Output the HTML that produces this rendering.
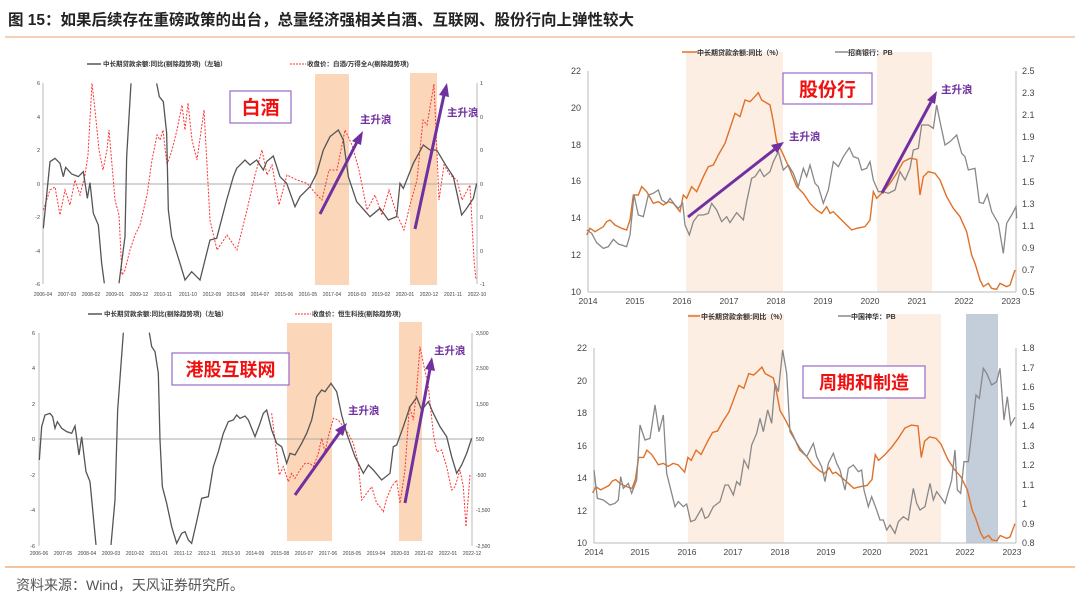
<!DOCTYPE html>
<html><head><meta charset="utf-8"><style>
html,body{margin:0;padding:0;background:#fff;}
svg{display:block;font-family:"Liberation Sans","Noto Sans CJK SC",sans-serif;}
.ns{vector-effect:non-scaling-stroke;fill:none;}
</style></head><body>
<svg width="1080" height="604" viewBox="0 0 1080 604" xmlns="http://www.w3.org/2000/svg">
<rect width="1080" height="604" fill="#fff"/>
<text x="8" y="25" font-size="15.5" font-weight="bold" fill="#222">图 15：如果后续存在重磅政策的出台，总量经济强相关白酒、互联网、股份行向上弹性较大</text>
<line x1="5" y1="37" x2="1075" y2="37" stroke="#e8a070" stroke-width="1"/>

<!-- ============ Chart 1 ============ -->
<rect x="315" y="74" width="34" height="211" fill="#fbd6b8"/>
<rect x="410" y="73" width="27" height="212" fill="#fbd6b8"/>
<line x1="43" y1="83" x2="43" y2="284" stroke="#bbb"/>
<line x1="477" y1="83" x2="477" y2="284" stroke="#bbb"/>
<line x1="43" y1="184" x2="477" y2="184" stroke="#aaa"/>
<g font-size="5.5" fill="#444" text-anchor="end">
<text x="40" y="85">6</text><text x="40" y="119">4</text><text x="40" y="152">2</text><text x="40" y="186">0</text><text x="40" y="219">-2</text><text x="40" y="253">-4</text><text x="40" y="286">-6</text>
</g>
<g font-size="5.5" fill="#444">
<text x="480" y="85">1</text><text x="480" y="119">0</text><text x="480" y="152">0</text><text x="480" y="186">0</text><text x="480" y="219">0</text><text x="480" y="253">0</text><text x="480" y="286">-1</text>
</g>
<g font-size="5" fill="#444" text-anchor="middle">
<text x="43" y="296">2006-04</text><text x="67" y="296">2007-03</text><text x="91" y="296">2008-02</text><text x="115" y="296">2009-01</text><text x="139" y="296">2009-12</text><text x="163" y="296">2010-11</text><text x="188" y="296">2011-10</text><text x="212" y="296">2012-09</text><text x="236" y="296">2013-08</text><text x="260" y="296">2014-07</text><text x="284" y="296">2015-06</text><text x="308" y="296">2016-05</text><text x="332" y="296">2017-04</text><text x="357" y="296">2018-03</text><text x="381" y="296">2019-02</text><text x="405" y="296">2020-01</text><text x="429" y="296">2020-12</text><text x="453" y="296">2021-11</text><text x="477" y="296">2022-10</text>
</g>
<line x1="87" y1="64" x2="101" y2="64" stroke="#555" stroke-width="1.5"/>
<text x="103" y="66" font-size="6.5" font-weight="bold" fill="#333">中长期贷款余额:同比(剔除趋势项)（左轴）</text>
<line x1="290" y1="64" x2="306" y2="64" stroke="#f33" stroke-dasharray="2,1"/>
<text x="307" y="66" font-size="6.5" font-weight="bold" fill="#333">收盘价：白酒/万得全A(剔除趋势项)</text>
<g transform="translate(0,50) scale(0.33333)">
<polyline class="ns" stroke="#f33" stroke-width="1" stroke-dasharray="2,1.5" points="130,480 150,420 165,411 180,495 195,420 210,465 225,390 240,435 255,375 264,315 276,100 285,180 297,300 309,360 321,300 327,240 336,345 345,450 357,495 366,675 375,660 390,600 405,555 420,525 441,435 456,330 471,255 480,270 489,240 501,345 516,300 531,240 546,165 555,240 564,159 576,270 591,330 612,180 630,510 651,600 681,555 711,600 741,480 765,375 786,300 801,375 816,345 837,465 861,375 891,390 921,400 951,435 966,450 987,360 1011,360 1035,240 1056,285 1077,360 1101,480 1125,435 1146,495 1167,420 1191,495 1212,540 1230,465 1251,390 1269,210 1281,225 1302,102 1317,450 1332,345 1350,375 1371,390 1386,450 1410,405 1422,630 1428,690"/>
<polyline class="ns" stroke="#555" stroke-width="1.3" points="130,535 150,335 165,325 180,340 190,380 197,352 215,372 235,380 250,365 262,445 270,398 280,490 295,525 305,640 313,700"/>
<polyline class="ns" stroke="#555" stroke-width="1.3" points="357,700 375,560 380,320 393,100"/>
<polyline class="ns" stroke="#555" stroke-width="1.3" points="470,100 478,140 490,155 500,250 505,480 515,560 540,640 555,690 575,665 600,690 630,570 650,565 680,450 700,380 710,355 735,330 750,345 770,330 790,360 800,335 820,318 840,380 860,400 885,470 900,440 930,410 950,370 970,300 990,260 1015,240 1030,270 1045,380 1070,455 1110,500 1140,475 1165,510 1190,500 1200,400 1210,415 1240,340 1270,285 1290,300 1310,300 1340,350 1360,380 1385,495 1400,475 1420,445 1430,400"/>
</g>
<rect x="230" y="91" width="61" height="32" fill="#fff" stroke="#9a6ac8" stroke-width="1.2"/>
<text x="260.5" y="114" font-size="19" font-weight="bold" fill="#f01010" text-anchor="middle">白酒</text>
<line x1="320" y1="214" x2="357" y2="142" stroke="#7030a0" stroke-width="3"/>
<polygon points="363,131 352,141 361,145" fill="#7030a0"/>
<line x1="415" y1="229" x2="444" y2="95" stroke="#7030a0" stroke-width="3"/>
<polygon points="447,83 439,95 449,97" fill="#7030a0"/>
<text x="360" y="123" font-size="10.5" font-weight="bold" fill="#7030a0">主升浪</text>
<text x="447" y="116" font-size="10.5" font-weight="bold" fill="#7030a0">主升浪</text>

<!-- ============ Chart 2 ============ -->
<rect x="686" y="52" width="97" height="240" fill="#fdeee3"/>
<rect x="877" y="52" width="55" height="240" fill="#fdeee3"/>
<line x1="588" y1="71" x2="588" y2="292" stroke="#bbb"/>
<line x1="1016" y1="71" x2="1016" y2="292" stroke="#bbb"/>
<line x1="588" y1="292" x2="1016" y2="292" stroke="#bbb"/>
<g font-size="9" fill="#444" text-anchor="end">
<text x="581" y="74">22</text><text x="581" y="111">20</text><text x="581" y="148">18</text><text x="581" y="184">16</text><text x="581" y="221">14</text><text x="581" y="258">12</text><text x="581" y="295">10</text>
</g>
<g font-size="9" fill="#444">
<text x="1022" y="74">2.5</text><text x="1022" y="96">2.3</text><text x="1022" y="118">2.1</text><text x="1022" y="140">1.9</text><text x="1022" y="162">1.7</text><text x="1022" y="185">1.5</text><text x="1022" y="207">1.3</text><text x="1022" y="229">1.1</text><text x="1022" y="251">0.9</text><text x="1022" y="273">0.7</text><text x="1022" y="295">0.5</text>
</g>
<g font-size="8.5" fill="#444" text-anchor="middle">
<text x="588" y="304">2014</text><text x="635" y="304">2015</text><text x="682" y="304">2016</text><text x="729" y="304">2017</text><text x="776" y="304">2018</text><text x="823" y="304">2019</text><text x="870" y="304">2020</text><text x="917" y="304">2021</text><text x="964" y="304">2022</text><text x="1011" y="304">2023</text>
</g>
<line x1="682" y1="52" x2="697" y2="52" stroke="#e07028" stroke-width="1.5"/>
<text x="697" y="55" font-size="7" font-weight="bold" fill="#333">中长期贷款余额:同比（%）</text>
<line x1="835" y1="52" x2="848" y2="52" stroke="#888" stroke-width="1.5"/>
<text x="848" y="55" font-size="7" font-weight="bold" fill="#333">招商银行：PB</text>
<g transform="translate(540,40) scale(0.33333)">
<polyline id="or2" class="ns" stroke="#e07028" stroke-width="1.4" points="140,585 150,565 165,575 190,560 200,545 210,540 225,555 245,565 260,570 270,540 280,465 295,465 305,440 320,455 340,490 355,485 370,495 385,485 400,490 420,515 430,465 440,475 455,440 470,455 490,410 505,380 520,375 535,345 555,310 575,250 585,220 600,230 615,180 630,185 640,175 655,158 665,180 690,195 700,245 710,305 728,340 750,390 770,440 790,460 810,490 830,510 845,520 860,500 870,520 880,515 900,535 920,555 935,570 950,565 975,560 990,540 1000,455 1010,475 1030,455 1050,430 1070,400 1090,365 1110,355 1130,358 1140,465 1150,410 1165,395 1185,400 1200,420 1220,470 1240,505 1260,530 1280,575 1295,645 1305,670 1320,720 1330,740 1345,730 1355,745 1370,748 1380,730 1400,740 1410,735 1425,690"/>
<polyline class="ns" stroke="#888" stroke-width="1.3" points="140,570 155,580 170,608 190,625 205,620 220,598 235,612 260,620 270,585 282,465 295,525 310,530 325,465 340,460 355,450 365,480 380,490 390,475 405,495 415,505 428,490 435,555 448,585 460,545 475,525 490,525 505,520 515,490 530,510 545,545 560,530 570,548 590,518 610,540 620,485 635,415 645,410 660,388 672,410 690,395 700,365 715,335 730,390 745,375 760,400 775,440 790,385 800,410 810,375 825,430 835,440 850,490 865,450 880,365 895,380 910,350 928,323 940,350 955,355 965,390 980,385 990,365 1000,420 1015,455 1030,455 1045,460 1065,450 1080,395 1095,420 1110,385 1120,330 1135,325 1145,255 1165,255 1180,265 1190,195 1200,245 1215,315 1230,305 1250,285 1265,340 1275,350 1285,390 1305,385 1318,487 1330,490 1342,463 1355,515 1375,550 1390,640 1400,550 1415,525 1428,500 1430,535"/>
</g>
<rect x="783" y="73" width="89" height="31" fill="#fff" stroke="#9a6ac8" stroke-width="1.2"/>
<text x="827.5" y="96" font-size="19" font-weight="bold" fill="#f01010" text-anchor="middle">股份行</text>
<line x1="688" y1="217" x2="775" y2="149" stroke="#7030a0" stroke-width="3"/>
<polygon points="784,142 771,145 777,153" fill="#7030a0"/>
<line x1="882" y1="193" x2="931" y2="102" stroke="#7030a0" stroke-width="3"/>
<polygon points="937,91 927,100 935,104" fill="#7030a0"/>
<text x="789" y="140" font-size="10.5" font-weight="bold" fill="#7030a0">主升浪</text>
<text x="941" y="93" font-size="10.5" font-weight="bold" fill="#7030a0">主升浪</text>

<!-- ============ Chart 3 ============ -->
<rect x="287" y="323" width="45" height="218" fill="#fbd6b8"/>
<rect x="399" y="322" width="23" height="219" fill="#fbd6b8"/>
<line x1="39" y1="333" x2="39" y2="546" stroke="#bbb"/>
<line x1="472" y1="333" x2="472" y2="546" stroke="#bbb"/>
<line x1="39" y1="439" x2="472" y2="439" stroke="#aaa"/>
<g font-size="5.5" fill="#444" text-anchor="end">
<text x="35" y="335">6</text><text x="35" y="370">4</text><text x="35" y="406">2</text><text x="35" y="441">0</text><text x="35" y="477">-2</text><text x="35" y="512">-4</text><text x="35" y="548">-6</text>
</g>
<g font-size="5" fill="#444">
<text x="476" y="335">3,500</text><text x="476" y="370">2,500</text><text x="476" y="406">1,500</text><text x="476" y="441">500</text><text x="476" y="477">-500</text><text x="476" y="512">-1,500</text><text x="476" y="548">-2,500</text>
</g>
<g font-size="5" fill="#444" text-anchor="middle">
<text x="39" y="555">2006-06</text><text x="63" y="555">2007-05</text><text x="87" y="555">2008-04</text><text x="111" y="555">2009-03</text><text x="135" y="555">2010-02</text><text x="159" y="555">2011-01</text><text x="183" y="555">2011-12</text><text x="207" y="555">2012-11</text><text x="231" y="555">2013-10</text><text x="255" y="555">2014-09</text><text x="280" y="555">2015-08</text><text x="304" y="555">2016-07</text><text x="328" y="555">2017-06</text><text x="352" y="555">2018-05</text><text x="376" y="555">2019-04</text><text x="400" y="555">2020-03</text><text x="424" y="555">2021-02</text><text x="448" y="555">2022-01</text><text x="472" y="555">2022-12</text>
</g>
<line x1="88" y1="314" x2="102" y2="314" stroke="#555" stroke-width="1.5"/>
<text x="104" y="316" font-size="6.5" font-weight="bold" fill="#333">中长期贷款余额:同比(剔除趋势项)（左轴）</text>
<line x1="295" y1="314" x2="311" y2="314" stroke="#f33" stroke-dasharray="2,1"/>
<text x="312" y="316" font-size="6.5" font-weight="bold" fill="#333">收盘价：恒生科技(剔除趋势项)</text>
<g transform="translate(0,300) scale(0.33333)">
<polyline class="ns" stroke="#f33" stroke-width="1" stroke-dasharray="2,1.5" points="815,340 825,420 838,525 850,500 865,545 875,520 885,535 900,510 915,490 930,490 940,500 955,460 965,415 975,455 985,410 1000,355 1015,360 1030,380 1045,400 1060,430 1075,490 1085,600 1100,580 1115,560 1130,610 1140,620 1150,635 1160,595 1175,560 1190,540 1200,610 1215,510 1228,320 1240,360 1250,270 1260,140 1270,190 1285,260 1300,400 1310,455 1325,450 1340,500 1355,570 1365,560 1380,510 1390,560 1398,680 1410,525"/>
<polyline class="ns" stroke="#555" stroke-width="1.3" points="118,480 125,380 135,345 150,340 158,350 165,385 172,365 185,385 200,395 215,400 225,378 237,465 245,410 258,515 270,545 280,650 288,735"/>
<polyline class="ns" stroke="#555" stroke-width="1.3" points="333,735 345,600 353,330 370,98"/>
<polyline class="ns" stroke="#555" stroke-width="1.3" points="448,98 455,140 465,155 475,220 480,420 487,560 500,610 515,680 530,730 545,700 555,695 565,720 575,730 590,665 605,595 625,590 640,500 655,455 670,400 685,365 700,360 710,345 720,355 735,348 745,360 765,410 780,370 790,340 800,330 815,390 830,430 845,440 860,490 870,460 885,465 905,430 920,400 935,360 950,290 965,270 975,275 993,250 1010,275 1025,345 1040,400 1065,470 1090,520 1105,495 1120,510 1145,540 1170,520 1180,440 1190,435 1210,380 1230,320 1250,292 1265,330 1285,305 1300,340 1320,380 1340,410 1355,470 1370,520 1385,495 1400,460 1415,415"/>
</g>
<rect x="172" y="353" width="117" height="32" fill="#fff" stroke="#9a6ac8" stroke-width="1.2"/>
<text x="230.5" y="376" font-size="18" font-weight="bold" fill="#f01010" text-anchor="middle">港股互联网</text>
<line x1="295" y1="495" x2="340" y2="432" stroke="#7030a0" stroke-width="3"/>
<polygon points="347,423 335,430 343,436" fill="#7030a0"/>
<line x1="405" y1="503" x2="430" y2="369" stroke="#7030a0" stroke-width="3"/>
<polygon points="432,357 425,369 435,371" fill="#7030a0"/>
<text x="348" y="414" font-size="10.5" font-weight="bold" fill="#7030a0">主升浪</text>
<text x="434" y="354" font-size="10.5" font-weight="bold" fill="#7030a0">主升浪</text>

<!-- ============ Chart 4 ============ -->
<rect x="688" y="314" width="96" height="229" fill="#fdeee3"/>
<rect x="887" y="314" width="54" height="229" fill="#fdeee3"/>
<rect x="966" y="314" width="32" height="229" fill="#c4cedb"/>
<line x1="594" y1="348" x2="594" y2="543" stroke="#bbb"/>
<line x1="1016" y1="348" x2="1016" y2="543" stroke="#bbb"/>
<line x1="594" y1="543" x2="1016" y2="543" stroke="#bbb"/>
<g font-size="9" fill="#444" text-anchor="end">
<text x="587" y="351">22</text><text x="587" y="384">20</text><text x="587" y="416">18</text><text x="587" y="449">16</text><text x="587" y="481">14</text><text x="587" y="514">12</text><text x="587" y="546">10</text>
</g>
<g font-size="9" fill="#444">
<text x="1022" y="351">1.8</text><text x="1022" y="371">1.7</text><text x="1022" y="390">1.6</text><text x="1022" y="410">1.5</text><text x="1022" y="429">1.4</text><text x="1022" y="449">1.3</text><text x="1022" y="468">1.2</text><text x="1022" y="488">1.1</text><text x="1022" y="507">1</text><text x="1022" y="527">0.9</text><text x="1022" y="546">0.8</text>
</g>
<g font-size="8.5" fill="#444" text-anchor="middle">
<text x="594" y="555">2014</text><text x="640" y="555">2015</text><text x="687" y="555">2016</text><text x="733" y="555">2017</text><text x="780" y="555">2018</text><text x="826" y="555">2019</text><text x="872" y="555">2020</text><text x="919" y="555">2021</text><text x="965" y="555">2022</text><text x="1012" y="555">2023</text>
</g>
<line x1="688" y1="316" x2="700" y2="316" stroke="#e07028" stroke-width="1.5"/>
<text x="701" y="319" font-size="7" font-weight="bold" fill="#333">中长期贷款余额:同比（%）</text>
<line x1="838" y1="316" x2="851" y2="316" stroke="#888" stroke-width="1.5"/>
<text x="851" y="319" font-size="7" font-weight="bold" fill="#333">中国神华：PB</text>
<g transform="matrix(0.32867,0,0,0.29433,546.6,320.6)">
<use href="#or2"/>
</g>
<g transform="translate(540,300) scale(0.33333)">
<polyline class="ns" stroke="#888" stroke-width="1.3" points="162,510 172,595 190,600 210,615 225,610 235,600 242,530 250,565 265,550 275,580 290,540 300,375 315,420 330,415 345,315 357,395 370,345 380,520 395,580 405,620 415,605 430,620 440,612 452,665 465,660 485,625 495,655 505,650 520,620 540,605 555,555 565,555 580,585 590,545 600,555 612,480 625,505 635,435 650,400 660,355 670,395 683,330 695,370 705,250 715,275 728,150 740,220 750,395 765,420 780,445 800,470 820,430 830,470 845,500 855,545 865,490 880,460 890,490 900,510 915,570 925,505 940,495 955,515 965,510 972,570 985,620 995,590 1010,630 1020,660 1030,660 1040,690 1050,675 1065,700 1075,665 1090,650 1105,660 1120,565 1130,610 1140,630 1155,620 1170,550 1180,600 1190,575 1205,595 1215,610 1235,540 1245,450 1252,570 1262,580 1272,485 1285,485 1295,400 1308,285 1318,295 1330,205 1340,220 1355,255 1370,245 1380,205 1392,360 1402,290 1412,375 1425,352"/>
</g>
<rect x="803" y="366" width="122" height="32" fill="#fff" stroke="#9a6ac8" stroke-width="1.2"/>
<text x="864" y="389" font-size="18" font-weight="bold" fill="#f01010" text-anchor="middle">周期和制造</text>

<!-- footer -->
<line x1="5" y1="567" x2="1075" y2="567" stroke="#f0a060" stroke-width="1.2"/>
<text x="16" y="590" font-size="14" fill="#555">资料来源：Wind，天风证券研究所。</text>
</svg>
</body></html>
